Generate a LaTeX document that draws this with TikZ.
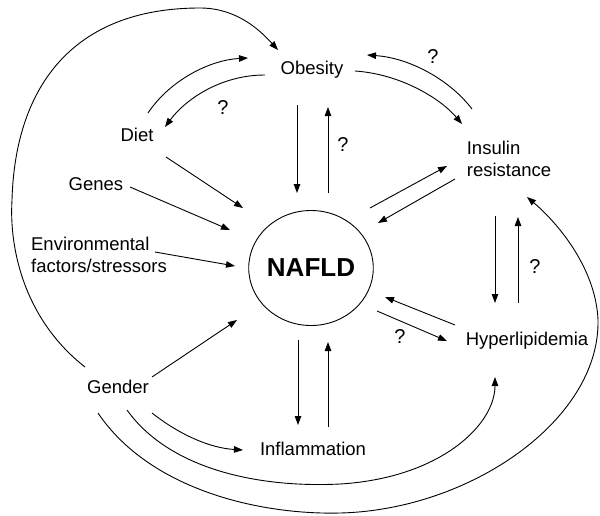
\documentclass[tikz,border=0pt]{standalone}
\usepackage{fontspec}
\setmainfont{Liberation Sans}
\usetikzlibrary{arrows.meta,calc,shapes.geometric}
\begin{document}
\begin{tikzpicture}[x=1pt,y=-1pt,
  lbl/.style={inner sep=0pt,font=\fontsize{18.5}{22}\selectfont},
  qm/.style={inner sep=0pt,font=\fontsize{20}{24}\selectfont},
  con/.style={line width=0.9pt,-{Triangle[length=9pt,width=6.5pt]}},
  ]
\useasboundingbox (0,0) rectangle (600,515);
% nodes
\node[lbl,anchor=base] (ob) at (312,74) {Obesity};
\node[lbl,anchor=base] (diet) at (137,141) {Diet};
\node[lbl,anchor=base] (genes) at (96,190) {Genes};
\node[lbl,align=left] (env) at (99,255) {Environmental\\factors/stressors};
\node[lbl,anchor=base] (gender) at (118,393) {Gender};
\node[lbl,anchor=base] (infl) at (313,455) {Inflammation};
\node[lbl,anchor=base] (hyp) at (527,345) {Hyperlipidemia};
\node[lbl,align=left] (ins) at (509,159) {Insulin\\resistance};
\node[draw,line width=0.9pt,ellipse,minimum width=122pt,minimum height=115pt,inner sep=0pt,
      font=\bfseries\fontsize{26}{30}\selectfont] (nafld) at (311,268) {NAFLD};
% question marks
\node[qm] (q1) at (223,108) {?};
\node[qm] (q2) at (343,145) {?};
\node[qm] (q3) at (433,57) {?};
\node[qm] (q4) at (535,267) {?};
\node[qm] (q5) at (400,337) {?};
% straight connectors
\draw[con] ($(ob.base)+(-15,31)$) -- ($(nafld)+(-14,-75)$);
\draw[con] ($(nafld)+(17,-75)$) -- ($(ob.base)+(16,33)$);
\draw[con] ($(diet.base)+(29,16)$) -- ($(nafld)+(-68,-60)$);
\draw[con] ($(genes.base)+(34,-3)$) -- ($(nafld)+(-81,-38)$);
\draw[con] ($(env)+(56,-3)$) -- ($(nafld)+(-76,-2)$);
\draw[con] ($(gender.base)+(34,-16)$) -- ($(nafld)+(-74,52)$);
\draw[con] ($(nafld)+(-13,72)$) -- ($(infl.base)+(-15,-30)$);
\draw[con] ($(infl.base)+(15,-28)$) -- ($(nafld)+(17,74)$);
\draw[con] ($(nafld)+(59,-60)$) -- ($(ins)+(-62,7)$);
\draw[con] ($(ins)+(-54,20)$) -- ($(nafld)+(67,-45)$);
\draw[con] ($(ins)+(-14,57)$) -- ($(hyp.base)+(-32,-42)$);
\draw[con] ($(hyp.base)+(-9,-42)$) -- ($(ins)+(9,58)$);
\draw[con] ($(hyp.base)+(-72,-20)$) -- ($(nafld)+(74,29)$);
\draw[con] ($(nafld)+(66,43)$) -- ($(hyp.base)+(-80,-4)$);
% curved connectors
\draw[con] ($(diet.base)+(11,-28)$) .. controls (170,80) and (210,60) .. ($(ob.base)+(-64,-16)$);
\draw[con] ($(ob.base)+(-47,1)$) .. controls (220,75) and (185,100) .. ($(diet.base)+(28,-14)$);
\draw[con] ($(ob.base)+(43,-3)$) .. controls (400,74) and (440,98) .. ($(ins)+(-47,-35)$);
\draw[con] ($(ins)+(-37,-50)$) .. controls (450,80) and (410,58) .. ($(ob.base)+(55,-19)$);
\draw[con] ($(gender.base)+(34,20)$) .. controls (180,435) and (210,448) .. ($(infl.base)+(-70,-5)$);
\draw[con] ($(gender.base)+(9,17)$) .. controls (170,470) and (260,488) .. (340,484)
   .. controls (440,478) and (495,425) .. ($(hyp.base)+(-32,32)$);
\draw[con] ($(gender.base)+(-20,20)$) .. controls (150,490) and (260,515) .. (340,513)
   .. controls (470,510) and (600,420) .. (598,320)
   .. controls (596,270) and (560,225) .. ($(ins)+(18,38)$);
\draw[con] ($(gender.base)+(-33,-26)$) .. controls (25,320) and (9,250) .. (12,200)
   .. controls (15,90) and (70,8) .. (200,8)
   .. controls (235,8) and (258,28) .. ($(ob.base)+(-34,-24)$);
\end{tikzpicture}
\end{document}
